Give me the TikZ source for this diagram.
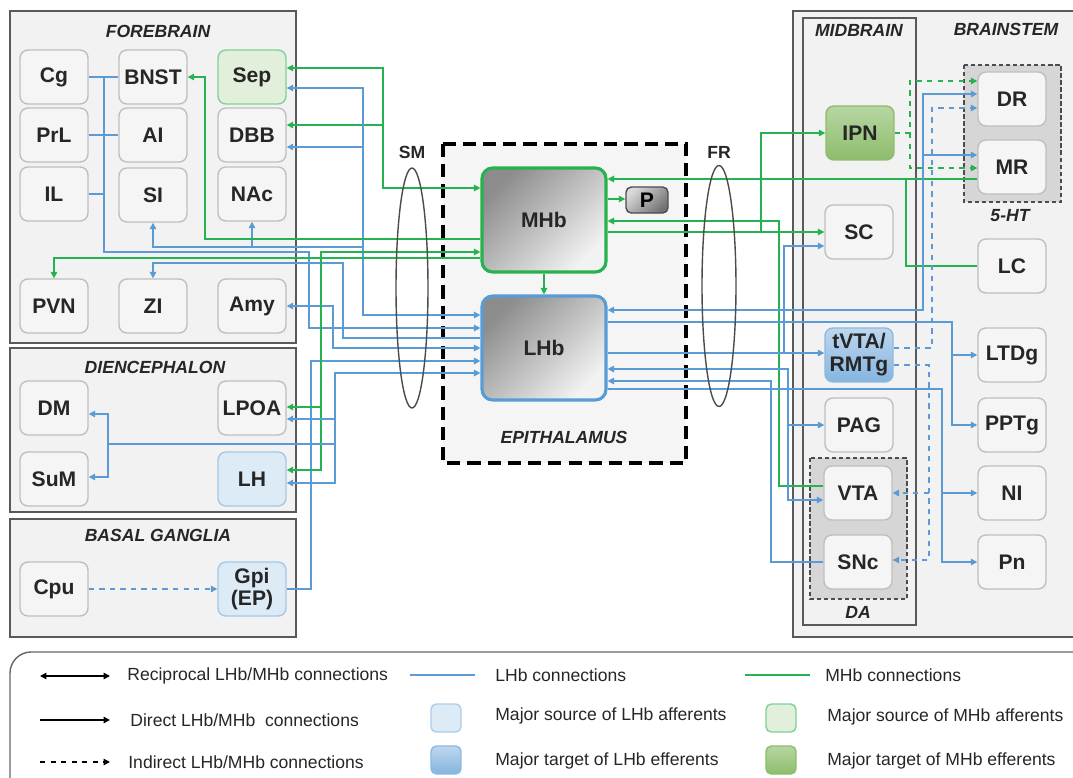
\documentclass[tikz,border=0pt]{standalone}
\usepackage{fontspec}
\setmainfont{Liberation Sans}
\usetikzlibrary{arrows.meta,shapes.geometric}
\definecolor{lhbblue}{RGB}{91,155,213}
\definecolor{mhbgreen}{RGB}{38,178,80}
\definecolor{lhbpale}{RGB}{221,235,247}
\definecolor{mhbpale}{RGB}{226,239,218}
\definecolor{mhbleaf}{RGB}{112,173,71}

\begin{document}
\begin{tikzpicture}[x=0.02cm, y=-0.02cm, >={Triangle[length=1.3mm,width=1.3mm]}]
\tikzstyle{region}=[draw=black!65, fill=black!5, line width=0.9pt]
\tikzstyle{pool}=[draw=black!70, fill=black!16, line width=0.8pt, dash pattern=on 2.5pt off 1.5pt]
\tikzstyle{regtitle}=[font=\fontsize{10}{12}\selectfont\bfseries\itshape, text=black!85]
\tikzstyle{nucleus}=[draw=black!25, fill=black!4, rounded corners=4.5pt, line width=0.8pt, minimum width=1.36cm, minimum height=1.08cm, align=center, inner sep=1pt, font=\fontsize{12}{13}\selectfont\bfseries, text=black!85]
\tikzstyle{lhbsrc}=[nucleus, draw=lhbblue!55, fill=lhbpale]
\tikzstyle{mhbsrc}=[nucleus, draw=mhbgreen!60, fill=mhbpale]
\tikzstyle{lhbtgt}=[nucleus, draw=lhbblue!70, top color=lhbblue!40, bottom color=lhbblue!75]
\tikzstyle{mhbtgt}=[nucleus, draw=mhbleaf!80, top color=mhbleaf!50, bottom color=mhbleaf!80]
\tikzstyle{habenula}=[rounded corners=6pt, line width=1.8pt, minimum width=2.48cm, minimum height=2.08cm, top color=black!45, bottom color=black!5, shading angle=45, font=\fontsize{12}{13}\selectfont\bfseries, text=black!85]
\tikzstyle{lhbline}=[draw=lhbblue, line width=0.8pt]
\tikzstyle{mhbline}=[draw=mhbgreen, line width=0.8pt]
\tikzstyle{bundle}=[ellipse, draw=black!70, line width=0.8pt, inner sep=0pt]
\tikzstyle{keytext}=[anchor=west, inner sep=0pt, font=\fontsize{10}{12}\selectfont, text=black!85]
\tikzstyle{keybox}=[rounded corners=3pt, line width=0.8pt, minimum width=0.6cm, minimum height=0.56cm]
\clip (0,0) rectangle (1073,778);
\fill[white] (0,0) rectangle (1073,778);

\draw[region] (10,11) rectangle (296,343);
\draw[region] (10,348) rectangle (296,512);
\draw[region] (10,519) rectangle (296,637);
\draw[region] (793,11) rectangle (1090,637);
\draw[region] (803,18) rectangle (916,625);
\draw[pool] (964,65) rectangle (1061,202);
\draw[pool] (810,458) rectangle (907,599);
\draw[fill=black!4, line width=2pt, dash pattern=on 7.5pt off 4pt] (443,144) rectangle (686,463);

\node[regtitle] (fbtitle) at (158,31) {FOREBRAIN};
\node[regtitle] (dctitle) at (155,367) {DIENCEPHALON};
\node[regtitle] (bgtitle) at (158,535) {BASAL GANGLIA};
\node[regtitle] (mbtitle) at (859,30) {MIDBRAIN};
\node[regtitle] (bstitle) at (1006,29) {BRAINSTEM};
\node[regtitle] (httitle) at (1010,216) {5-HT};
\node[regtitle] (datitle) at (858,612) {DA};
\node[regtitle] (eptitle) at (564,437) {EPITHALAMUS};

\node[nucleus] (cg) at (54,77) {Cg};
\node[nucleus] (bnst) at (153,77) {BNST};
\node[mhbsrc] (sep) at (252,77) {Sep};
\node[nucleus] (prl) at (54,135) {PrL};
\node[nucleus] (ai) at (153,135) {AI};
\node[nucleus] (dbb) at (252,135) {DBB};
\node[nucleus] (il) at (54,194) {IL};
\node[nucleus] (si) at (153,195) {SI};
\node[nucleus] (nac) at (252,194) {NAc};
\node[nucleus] (pvn) at (54,306) {PVN};
\node[nucleus] (zi) at (153,306) {ZI};
\node[nucleus] (amy) at (252,306) {Amy};
\node[nucleus] (dm) at (54,408) {DM};
\node[nucleus] (lpoa) at (252,408) {LPOA};
\node[nucleus] (sum) at (54,479) {SuM};
\node[lhbsrc] (lh) at (252,479) {LH};
\node[nucleus] (cpu) at (54,589) {Cpu};
\node[lhbsrc] (gpi) at (252,589) {Gpi\\(EP)};

\node[habenula, draw=mhbgreen] (mhb) at (544,220) {MHb};
\node[habenula, draw=lhbblue] (lhb) at (544,348) {LHb};
\node[draw=black!70, line width=0.8pt, rounded corners=3pt, minimum width=0.84cm, minimum height=0.52cm, inner sep=0pt, top color=black!15, bottom color=black!55, shading angle=45, font=\fontsize{12}{13}\selectfont\bfseries] (p) at (647,200) {P};

\node[mhbtgt] (ipn) at (860,133) {IPN};
\node[nucleus] (sc) at (859,232) {SC};
\node[lhbtgt] (tvta) at (859,355) {tVTA/\\RMTg};
\node[nucleus] (pag) at (859,425) {PAG};
\node[nucleus] (vta) at (858,493) {VTA};
\node[nucleus] (snc) at (858,562) {SNc};
\node[nucleus] (dr) at (1012,99) {DR};
\node[nucleus] (mr) at (1012,167) {MR};
\node[nucleus] (lc) at (1012,266) {LC};
\node[nucleus] (ltdg) at (1012,355) {LTDg};
\node[nucleus] (pptg) at (1012,425) {PPTg};
\node[nucleus] (ni) at (1012,493) {NI};
\node[nucleus] (pn) at (1012,562) {Pn};

\draw[mhbline,<->] (sep.east|-0,68) -| (383,188) -- (mhb.west|-0,188);
\draw[mhbline,->] (383,125) -- (dbb.east|-0,125);
\draw[lhbline,<->] (sep.east|-0,88) -| (363,315) -- (lhb.west|-0,315);
\draw[lhbline,->] (363,147) -- (dbb.east|-0,147);
\draw[lhbline,->] (363,247) -| (si.south);
\draw[lhbline,->] (nac.south|-0,247) -- (nac.south);
\draw[lhbline] (cg.east) -- (bnst.west);
\draw[lhbline] (prl.east) -- (ai.west);
\draw[lhbline] (il.east) -- (104,194);
\draw[lhbline,->] (104,77) -- (104,252) -- (309,252) -- (309,328) -- (lhb.west|-0,328);
\draw[lhbline,->] (lhb.west|-0,338) -| (343,263) -| (zi.north);
\draw[lhbline,<->] (amy.east) -| (333,348) -- (lhb.west);
\draw[lhbline,->] (gpi.east) -| (311,361) -- (lhb.west|-0,361);
\draw[mhbline,->] (mhb.west|-0,239) -| (205,77) -- (bnst.east);
\draw[mhbline,->] (mhb.west|-0,258) -| (pvn.north);
\draw[mhbline,<->] (lh.east|-0,470) -| (321,252) -- (mhb.west|-0,252);
\draw[mhbline,->] (321,407) -- (lpoa.east|-0,407);
\draw[lhbline,<->] (lh.east|-0,483) -| (335,373) -- (lhb.west|-0,373);
\draw[lhbline,->] (335,419) -- (lpoa.east|-0,419);
\draw[lhbline,->] (335,444) -| (108,414) -- (dm.east|-0,414);
\draw[lhbline,->] (108,444) |- (sum.east|-0,477);
\draw[lhbline,dashed,->] (cpu.east) -- (gpi.west);

\draw[mhbline,->] (mhb.south) -- (lhb.north);
\draw[mhbline,->] (mhb.east|-0,199) -- (p.west|-0,199);

\draw[mhbline,->] (mr.west|-0,179) -- (mhb.east|-0,179);
\draw[mhbline] (lc.west) -| (906,179);
\draw[mhbline,->] (vta.west|-0,486) -| (779,221) -- (mhb.east|-0,221);
\draw[mhbline,->] (mhb.east|-0,232) -- (sc.west);
\draw[mhbline,->] (761,232) |- (ipn.west);
\draw[mhbline,dashed,->] (ipn.east) -| (910,81) -- (dr.west|-0,81);
\draw[mhbline,dashed,->] (910,133) |- (mr.west|-0,168);
\draw[lhbline,<->] (dr.west|-0,94) -| (923,310) -- (lhb.east|-0,310);
\draw[lhbline,->] (923,155) -- (mr.west|-0,155);
\draw[lhbline,->] (lhb.east|-0,322) -| (952,425) -- (pptg.west);
\draw[lhbline,->] (952,355) -- (ltdg.west);
\draw[lhbline,->] (lhb.east|-0,353) -- (tvta.west|-0,353);
\draw[lhbline,->] (784,353) |- (sc.west|-0,246);
\draw[lhbline,<->] (vta.west|-0,500) -| (788,369) -- (lhb.east|-0,369);
\draw[lhbline,->] (788,425) -- (pag.west);
\draw[lhbline,->] (snc.west) -| (771,381) -- (lhb.east|-0,381);
\draw[lhbline,->] (lhb.east|-0,389) -| (942,562) -- (pn.west);
\draw[lhbline,->] (942,493) -- (ni.west);
\draw[lhbline,dashed,->] (tvta.east|-0,365) -| (929,560) -- (snc.east|-0,560);
\draw[lhbline,dashed,->] (929,493) -- (vta.east);
\draw[lhbline,dashed,->] (tvta.east|-0,348) -| (932,108) -- (dr.west|-0,108);

\node[bundle, minimum width=0.64cm, minimum height=4.8cm] (sm) at (412,288) {};
\node[bundle, minimum width=0.68cm, minimum height=4.82cm] (fr) at (719,286) {};
\node[font=\fontsize{10}{12}\selectfont\bfseries, text=black!85] (smlabel) at (412,152) {SM};
\node[font=\fontsize{10}{12}\selectfont\bfseries, text=black!85] (frlabel) at (719,152) {FR};

\draw[draw=black!60, fill=white, line width=0.8pt, rounded corners=12pt] (10,652) rectangle (1100,800);
\coordinate (k1a) at (40,676);
\coordinate (k1b) at (110,676);
\coordinate (k2a) at (40,720);
\coordinate (k2b) at (110,720);
\coordinate (k3a) at (40,762);
\coordinate (k3b) at (110,762);
\coordinate (k4a) at (410,675);
\coordinate (k4b) at (475,675);
\coordinate (k5a) at (745,675);
\coordinate (k5b) at (810,675);
\draw[line width=0.8pt,<->] (k1a) -- (k1b);
\draw[line width=0.8pt,->] (k2a) -- (k2b);
\draw[line width=0.8pt,dashed,->] (k3a) -- (k3b);
\draw[lhbline] (k4a) -- (k4b);
\draw[mhbline] (k5a) -- (k5b);
\node[keytext] (k1) at (127,676) {Reciprocal LHb/MHb connections};
\node[keytext] (k2) at (130,720) {Direct LHb/MHb\ \ connections};
\node[keytext] (k3) at (128,762) {Indirect LHb/MHb connections};
\node[keytext] (k4) at (495,675) {LHb connections};
\node[keytext] (k5) at (825,675) {MHb connections};
\node[keybox, draw=lhbblue!50, fill=lhbpale] (k6box) at (446,718) {};
\node[keytext] (k6) at (495,716) {Major source of LHb afferents};
\node[keybox, draw=lhbblue!70, top color=lhbblue!40, bottom color=lhbblue!75] (k7box) at (446,760) {};
\node[keytext] (k7) at (495,761) {Major target of LHb efferents};
\node[keybox, draw=mhbgreen!60, fill=mhbpale] (k8box) at (781,718) {};
\node[keytext] (k8) at (827,717) {Major source of MHb afferents};
\node[keybox, draw=mhbleaf!80, top color=mhbleaf!50, bottom color=mhbleaf!80] (k9box) at (781,760) {};
\node[keytext] (k9) at (827,761) {Major target of MHb efferents};
\end{tikzpicture}
\end{document}
